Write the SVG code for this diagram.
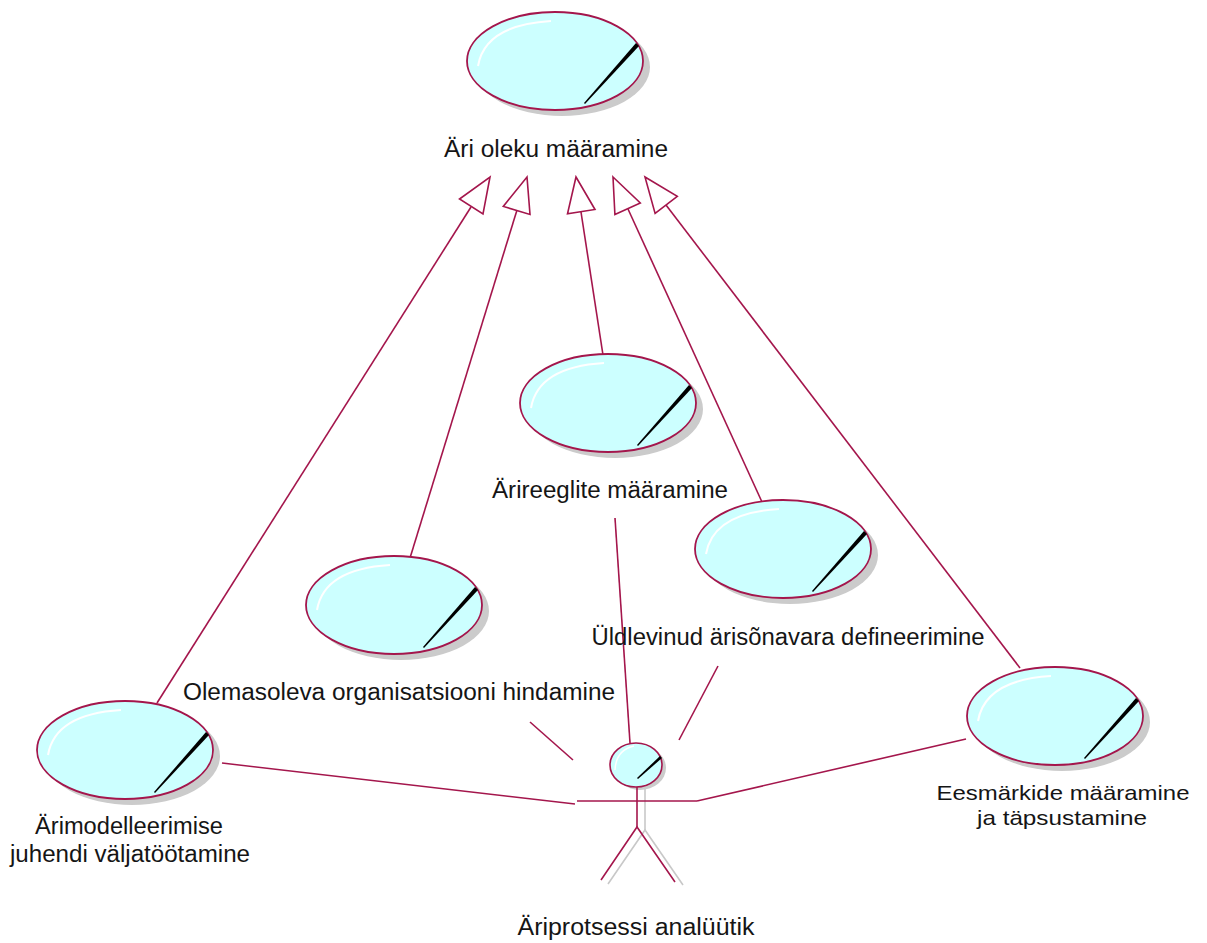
<svg xmlns="http://www.w3.org/2000/svg" xmlns:xlink="http://www.w3.org/1999/xlink" width="1207" height="943" viewBox="0 0 1207 943">
<style>
.ln{stroke:#a4164c;stroke-width:1.6;fill:none}
.hd{stroke:#a4164c;stroke-width:1.6;fill:#ffffff}
.sh{stroke:#c8c8c8;stroke-width:1.6;fill:none}
.t{font-family:"Liberation Sans",Arial,sans-serif;font-size:23px;fill:#151515;text-anchor:middle}
.t2{font-size:21px}
</style>
<defs>
<g id="uc">
<ellipse cx="7" cy="6" rx="88" ry="49" fill="#cbcbcb"/>
<ellipse cx="0" cy="0" rx="88" ry="49" fill="#ccffff" stroke="#a4164c" stroke-width="1.8"/>
<path d="M-77,5 Q-70,-36 -4,-40" fill="none" stroke="#ffffff" stroke-width="2"/>
<polygon points="29,42 81,-18 84,-15 30,43" fill="#000000"/>
</g>
</defs>
<g id="connectors">
<line class="ln" x1="157" y1="703" x2="471" y2="207"/>
<polygon class="hd" points="490,177 483,214 459.5,199"/>
<line class="ln" x1="410" y1="558" x2="517" y2="210"/>
<polygon class="hd" points="527,177 530,214.5 503.3,206.4"/>
<line class="ln" x1="603" y1="355" x2="581" y2="212"/>
<polygon class="hd" points="576,177 595,209.5 567.5,213.7"/>
<line class="ln" x1="762" y1="502" x2="628" y2="209"/>
<polygon class="hd" points="613,177 640.3,203 614.9,214.6"/>
<line class="ln" x1="1020" y1="668" x2="666" y2="205"/>
<polygon class="hd" points="645,177 677.3,196.4 655.1,213.4"/>
<line class="ln" x1="615" y1="518" x2="630" y2="743"/>
<line class="ln" x1="530" y1="722" x2="573" y2="760"/>
<line class="ln" x1="718" y1="666" x2="679" y2="740"/>
<polyline class="ln" points="222,763 575,804"/>
<polyline class="ln" points="697,801 966,739"/>
</g>
<g id="n-top"><use xlink:href="#uc" transform="translate(555,61)"/>
<text class="t" x="556" y="157" textLength="224" lengthAdjust="spacingAndGlyphs">Äri oleku määramine</text></g>
<g id="n-reeglid"><use xlink:href="#uc" transform="translate(608,403)"/>
<text class="t" x="610" y="498" textLength="236" lengthAdjust="spacingAndGlyphs">Ärireeglite määramine</text></g>
<g id="n-sonavara"><use xlink:href="#uc" transform="translate(783,549)"/>
<text class="t" x="788" y="645" textLength="393" lengthAdjust="spacingAndGlyphs">Üldlevinud ärisõnavara defineerimine</text></g>
<g id="n-olemasoleva"><use xlink:href="#uc" transform="translate(394,605)"/>
<text class="t" x="399" y="700" textLength="432" lengthAdjust="spacingAndGlyphs">Olemasoleva organisatsiooni hindamine</text></g>
<g id="n-juhend"><use xlink:href="#uc" transform="translate(125,750)"/>
<text class="t" x="129" y="834" textLength="188" lengthAdjust="spacingAndGlyphs">Ärimodelleerimise</text>
<text class="t" x="130" y="862" textLength="240" lengthAdjust="spacingAndGlyphs">juhendi väljatöötamine</text></g>
<g id="n-eesmargid"><use xlink:href="#uc" transform="translate(1055,716)"/>
<text class="t t2" x="1063" y="800" textLength="253" lengthAdjust="spacingAndGlyphs">Eesmärkide määramine</text>
<text class="t t2" x="1062" y="825" textLength="170" lengthAdjust="spacingAndGlyphs">ja täpsustamine</text></g>
<g id="n-actor">
<line class="sh" x1="645" y1="788" x2="645" y2="830"/>
<polyline class="sh" points="608,884 645,830 683,885"/>
<ellipse cx="640" cy="768" rx="26" ry="22" fill="#cbcbcb"/>
<ellipse cx="636" cy="765" rx="26" ry="22" fill="#ccffff" stroke="#a4164c" stroke-width="1.6"/>
<path d="M615,770 Q616,750 634,746" fill="none" stroke="#ffffff" stroke-width="1.5"/>
<polygon points="637,778 660,756 662,758 638,779" fill="#000000"/>
<line class="ln" x1="637" y1="787" x2="637" y2="827"/>
<line class="ln" x1="577" y1="801" x2="697" y2="801"/>
<polyline class="ln" points="601,880 637,827 675,882"/>
<text class="t" x="636" y="935" textLength="237" lengthAdjust="spacingAndGlyphs">Äriprotsessi analüütik</text>
</g>
</svg>
